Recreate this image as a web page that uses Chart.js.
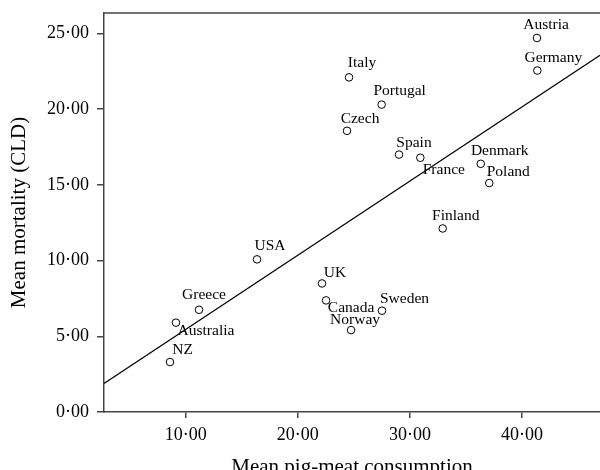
<!DOCTYPE html>
<html>
<head>
<meta charset="utf-8">
<script src="https://cdn.jsdelivr.net/npm/chart.js@4/dist/chart.umd.min.js"></script>
<style>
html,body{margin:0;padding:0;background:#fff;overflow:hidden;width:600px;height:470px;}
canvas{display:block;}
</style>
</head>
<body>
<canvas id="c" width="600" height="490"></canvas>
<script>
// Data
const countries = ["Austria","Germany","Italy","Portugal","Czech","Spain","France","Denmark","Poland","Finland","USA","Greece","Australia","NZ","UK","Canada","Sweden","Norway"];
const pigMeat   = [41.34, 41.37, 24.57, 27.48, 24.39, 29.03, 30.93, 36.32, 37.08, 32.93, 16.36, 11.19, 9.13, 8.60, 22.16, 22.52, 27.51, 24.75];
const mortality = [24.70, 22.55, 22.10, 20.30, 18.57, 17.00, 16.79, 16.39, 15.12, 12.12, 10.08, 6.75, 5.90, 3.30, 8.49, 7.37, 6.69, 5.41];
// Fitted line end points
const fitX = [2.71, 46.96];
const fitY = [1.89, 23.56];
const xTicks = [10, 20, 30, 40];
const yTicks = [0, 5, 10, 15, 20, 25];

// Label placement offsets (pixels) relative to each point
const labelOffsets = {
  "Austria":[9,-13],"Germany":[16,-13],"Italy":[13,-14],"Portugal":[18,-14],"Czech":[13,-12],
  "Spain":[15,-12],"France":[23.5,12],"Denmark":[19,-13],"Poland":[19,-11],"Finland":[13,-13],
  "USA":[13,-13],"Greece":[5,-15],"Australia":[30,8],"NZ":[12.5,-12],"UK":[13,-11],
  "Canada":[25,8],"Sweden":[22.5,-12],"Norway":[4,-10]
};

const SERIF = "'Liberation Serif','Times New Roman',serif";
const fmt = v => Number(v).toFixed(2).replace('.', '\u00B7');

const labelPlugin = {
  id: 'pointLabels',
  afterDatasetsDraw(chart) {
    const ctx = chart.ctx;
    const meta = chart.getDatasetMeta(1);
    ctx.save();
    ctx.font = "15.5px " + SERIF;
    ctx.fillStyle = '#000';
    ctx.textAlign = 'center';
    ctx.textBaseline = 'middle';
    meta.data.forEach((pt, i) => {
      const o = labelOffsets[countries[i]] || [0, -12];
      ctx.fillText(countries[i], pt.x + o[0], pt.y + o[1]);
    });
    ctx.restore();
  },
  afterDraw(chart) {
    const a = chart.chartArea, ctx = chart.ctx;
    ctx.save();
    ctx.strokeStyle = '#444';
    ctx.lineWidth = 1.5;
    ctx.beginPath();
    ctx.moveTo(a.left, a.top);
    ctx.lineTo(a.right, a.top);
    ctx.stroke();
    ctx.restore();
  }
};

new Chart(document.getElementById('c'), {
  type: 'scatter',
  data: {
    datasets: [
      {
        type: 'line',
        data: fitX.map((x, i) => ({x, y: fitY[i]})),
        borderColor: '#000',
        borderWidth: 1.2,
        pointRadius: 0,
        fill: false,
        order: 2
      },
      {
        data: pigMeat.map((x, i) => ({x, y: mortality[i]})),
        pointRadius: 3.8,
        pointBorderWidth: 1,
        pointBorderColor: '#000',
        pointBackgroundColor: '#fff',
        order: 1
      }
    ]
  },
  options: {
    responsive: false,
    animation: false,
    layout: { autoPadding: false, padding: { top: 13, right: 0, bottom: 0, left: 0 } },
    plugins: { legend: { display: false }, tooltip: { enabled: false } },
    scales: {
      x: {
        type: 'linear',
        min: 2.71, max: 46.96,
        afterBuildTicks: s => { s.ticks = xTicks.map(v => ({value: v})); },
        afterFit: s => { s.height = 78; s.paddingLeft = 0; s.paddingRight = 0; },
        grid: { drawOnChartArea: false, drawTicks: true, tickLength: 6, color: '#444', lineWidth: 1.5 },
        border: { display: true, color: '#444', width: 1.5 },
        ticks: { color: '#000', padding: 6, maxRotation: 0, font: { family: SERIF, size: 18 }, callback: v => fmt(v) },
        title: { display: true, text: 'Mean pig-meat consumption', color: '#000', font: { family: SERIF, size: 21 }, padding: { top: 0, bottom: 10 } }
      },
      y: {
        type: 'linear',
        min: 0, max: 26.35,
        afterBuildTicks: s => { s.ticks = yTicks.map(v => ({value: v})); },
        afterFit: s => { s.width = 104; s.paddingTop = 0; s.paddingBottom = 0; },
        grid: { drawOnChartArea: false, drawTicks: true, tickLength: 7, color: '#444', lineWidth: 1.5 },
        border: { display: true, color: '#444', width: 1.5 },
        ticks: { color: '#000', padding: 8, font: { family: SERIF, size: 18 }, callback: v => fmt(v) },
        title: { display: true, text: 'Mean mortality (CLD)', color: '#000', font: { family: SERIF, size: 21 }, padding: { top: 7, bottom: 0 } }
      }
    }
  },
  plugins: [labelPlugin]
});
</script>
</body>
</html>
